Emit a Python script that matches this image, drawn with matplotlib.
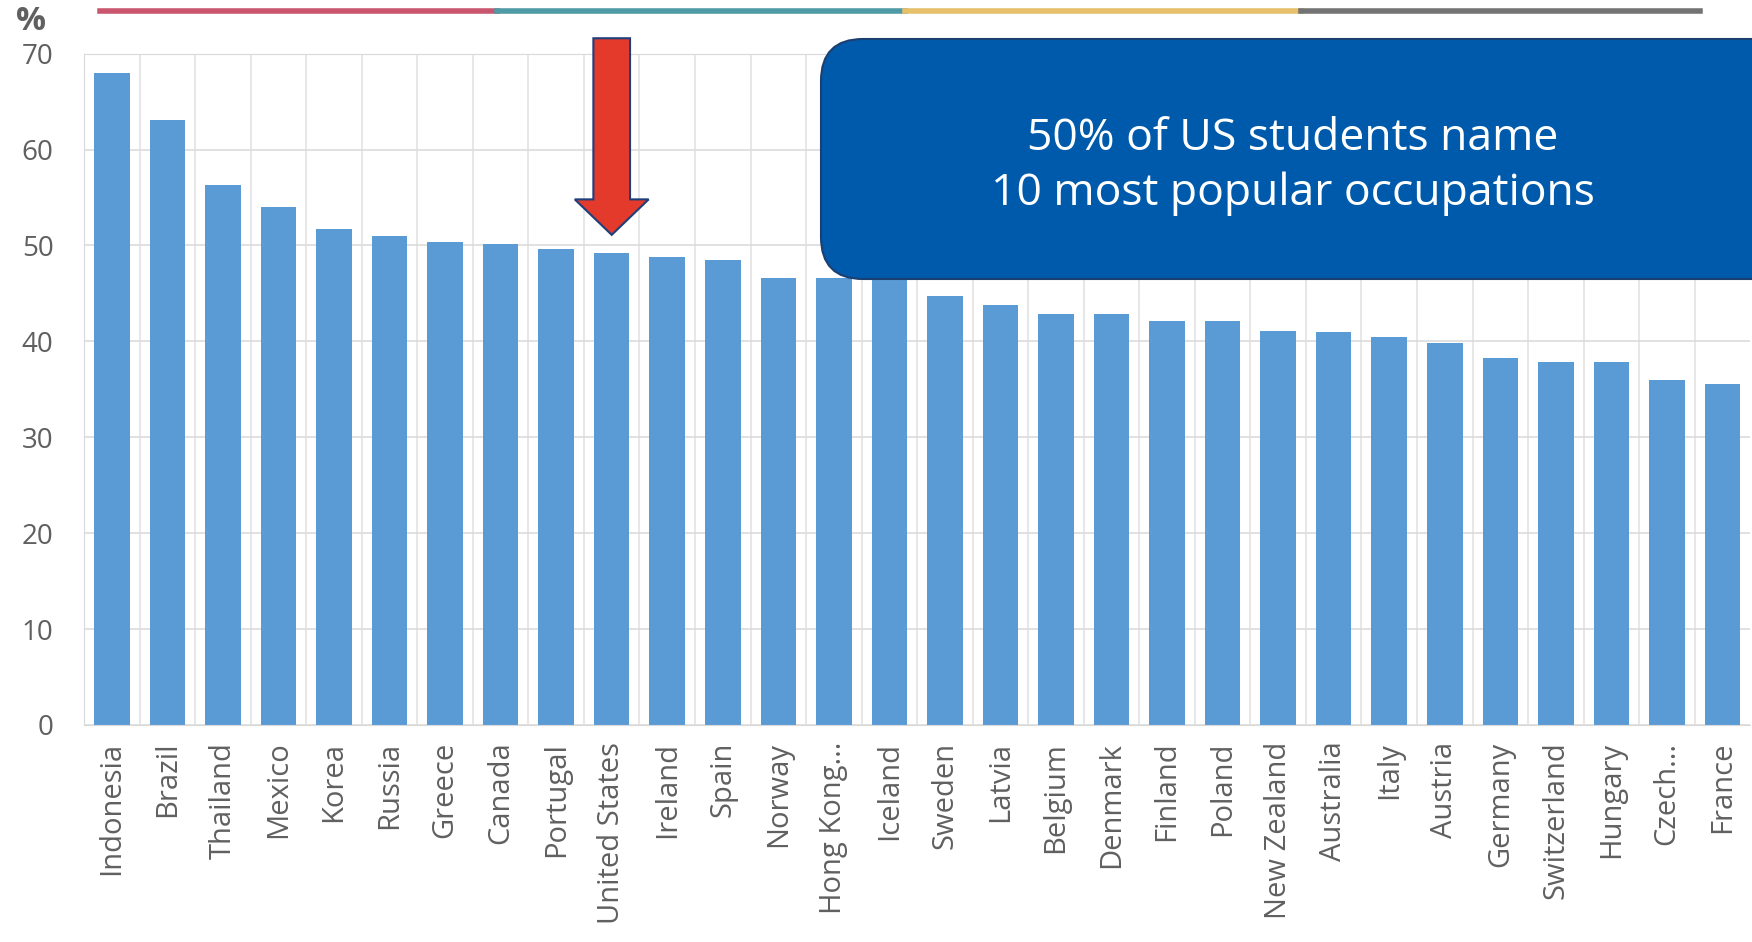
import matplotlib.pyplot as plt
from matplotlib.patches import FancyBboxPatch
from matplotlib.lines import Line2D

plt.rcParams['font.family'] = ['Open Sans', 'DejaVu Sans']

# Share of students naming the 10 most popular occupations (%)
countries = ["Indonesia", "Brazil", "Thailand", "Mexico", "Korea", "Russia", "Greece",
             "Canada", "Portugal", "United States", "Ireland", "Spain", "Norway",
             "Hong Kong...", "Iceland", "Sweden", "Latvia", "Belgium", "Denmark",
             "Finland", "Poland", "New Zealand", "Australia", "Italy", "Austria",
             "Germany", "Switzerland", "Hungary", "Czech...", "France"]
values = [68.0, 63.1, 56.3, 54.0, 51.7, 51.0, 50.4, 50.1, 49.6, 49.2, 48.8, 48.5, 46.6,
          46.6, 46.5, 44.7, 43.8, 42.8, 42.8, 42.1, 42.1, 41.1, 41.0, 40.4, 39.8,
          38.3, 37.8, 37.8, 36.0, 35.5]
highlight = "United States"
callout = "50% of US students name\n10 most popular occupations"

fig = plt.figure(figsize=(17.52, 9.42), dpi=100)
ax = fig.add_axes([0.048, 0.2304, 0.951, 0.7127])

x = range(len(countries))
ax.bar(x, values, width=0.64, color="#5b9bd5", zorder=2)

ax.set_xlim(-0.5, len(countries) - 0.5)
ax.set_ylim(0, 70)
ax.set_yticks(range(0, 71, 10))
ax.set_xticks(list(x))
ax.set_xticklabels(countries, rotation=90, fontsize=21, color="#606060")
ax.tick_params(axis="y", labelsize=20, labelcolor="#606060", length=0, pad=22)
ax.tick_params(axis="x", length=0, pad=12)

# grid: horizontal lines at ticks, vertical lines between categories
ax.grid(axis="y", color="#dcdcdc", linewidth=1.2, zorder=0)
for i in range(len(countries)):
    ax.axvline(i - 0.5, color="#e3e3e3", linewidth=1.2, zorder=0)
for s in ax.spines.values():
    s.set_color("#d9d9d9")
ax.spines["right"].set_visible(False)

# red arrow pointing at the US bar
ix = countries.index(highlight)
ax.arrow(ix, 71.6, 0, values[ix] + 1.9 - 71.6, width=0.66, head_width=1.33,
         head_length=3.7, length_includes_head=True, facecolor="#e33a2c",
         edgecolor="#1f3e7a", linewidth=1.5, clip_on=False, zorder=5)

fig.text(31 / 1752, 1 - 22 / 942, "%", fontsize=24, fontweight="bold",
         color="#606060", ha="center", va="center")

# coloured strip at the top
strip = [(100, 497, "#c9566e"), (497, 905, "#4e9aa6"), (905, 1301, "#e6c06a"),
         (1301, 1700, "#737373")]
for x0, x1, c in strip:
    fig.add_artist(Line2D([x0 / 1752, x1 / 1752], [0.988, 0.988], color=c,
                          linewidth=4, transform=fig.transFigure))

# callout box
box = FancyBboxPatch((8.21, 6.63), 9.8, 2.40, boxstyle="round,pad=0,rounding_size=0.42",
                     transform=fig.dpi_scale_trans, facecolor="#005aab",
                     edgecolor="#1c3f72", linewidth=1.5, zorder=10)
fig.add_artist(box)
fig.text(12.93 / 17.52, 7.76 / 9.42, callout, ha="center", va="center", fontsize=32,
         color="white", linespacing=1.3, zorder=11)

fig.savefig("out.png", dpi=100)
